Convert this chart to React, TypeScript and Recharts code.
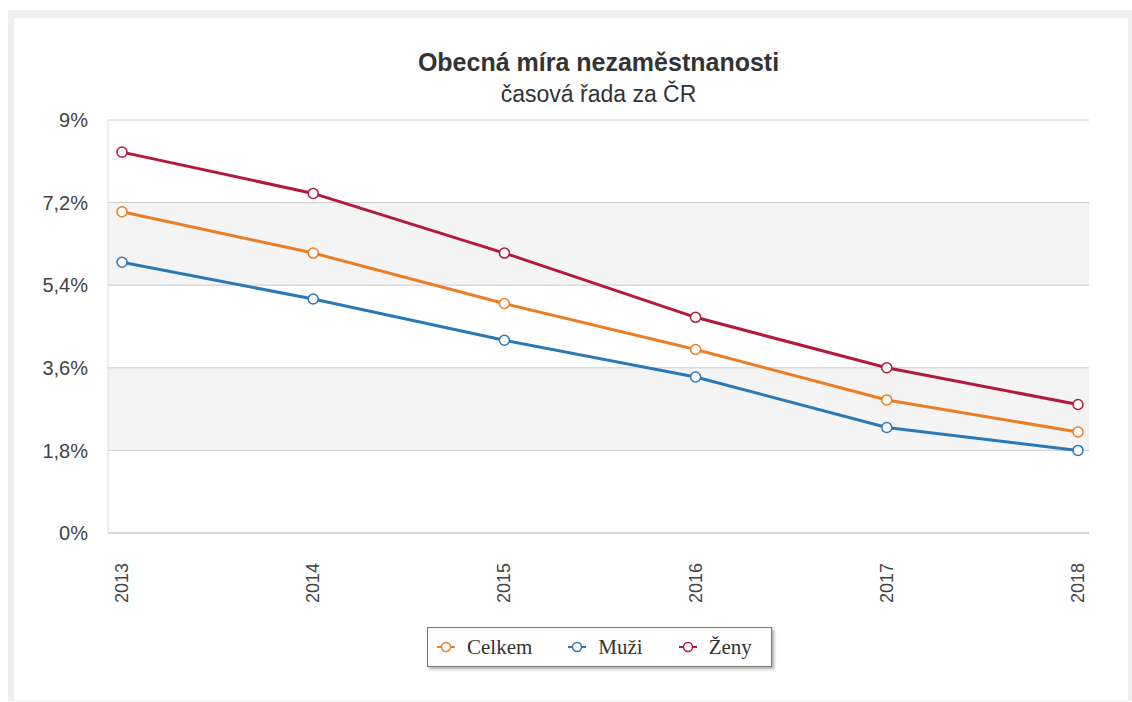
import React from 'react';
import { LineChart, Line, XAxis, YAxis, CartesianGrid, Legend } from 'recharts';

const years = ['2013', '2014', '2015', '2016', '2017', '2018'];
const celkem = [7.0, 6.1, 5.0, 4.0, 2.9, 2.2];
const muzi = [5.9, 5.1, 4.2, 3.4, 2.3, 1.8];
const zeny = [8.3, 7.4, 6.1, 4.7, 3.6, 2.8];
const yTicks = [0, 1.8, 3.6, 5.4, 7.2, 9];
const seriesKeys = ['celkem', 'muzi', 'zeny'];
const seriesNames = ['Celkem', 'Muži', 'Ženy'];
const seriesColors = ['#eb7d23', '#2a78b6', '#b3193c'];
const title = 'Obecná míra nezaměstnanosti';
const subtitle = 'časová řada za ČR';

const data = years.map((y, i) => ({ year: y, celkem: celkem[i], muzi: muzi[i], zeny: zeny[i] }));

const sans = '"Liberation Sans", Arial, sans-serif';
const serif = '"Liberation Serif", "Times New Roman", serif';

const fmtY = (v: number) => String(v).replace('.', ',') + '%';

const XTick = (props: any) => {
  const { x, y, payload } = props;
  return (
    <g transform={`translate(${x},${y + 30}) rotate(-90)`}>
      <text x={0} y={0} dy={6} textAnchor="end" fill="#444" fontSize={18} fontFamily={sans}>
        {payload.value}
      </text>
    </g>
  );
};

const LegendContent = () => (
  <div
    style={{
      display: 'flex',
      alignItems: 'center',
      height: 40,
      width: 345,
      boxSizing: 'border-box',
      border: '1px solid #777',
      boxShadow: '2px 2px 3px #aaa',
      background: '#fff',
      fontFamily: serif,
      fontSize: 21,
      color: '#333',
      paddingLeft: 9,
    }}
  >
    {seriesNames.map((n, i) => (
      <div key={n} style={{ display: 'flex', alignItems: 'center', marginRight: i < 2 ? 36 : 0 }}>
        <svg width={18} height={12} style={{ display: 'block' }}>
          <line x1={0} y1={6} x2={18} y2={6} stroke={seriesColors[i]} strokeWidth={2} />
          <circle cx={9} cy={6} r={4.5} fill="#fff" stroke={seriesColors[i]} strokeWidth={1.5} />
        </svg>
        <span style={{ marginLeft: 12 }}>{n}</span>
      </div>
    ))}
  </div>
);

export default function App() {
  return (
    <div style={{ position: 'absolute', left: 0, top: 0, width: 1132, height: 702, background: '#fff' }}>
      <div style={{ position: 'absolute', left: 8, top: 10, width: 1124, height: 691, background: '#efefef' }} />
      <div style={{ position: 'absolute', left: 14, top: 18, width: 1114, height: 682, background: '#fff' }} />
      <div
        style={{
          position: 'absolute',
          left: 108,
          width: 981,
          top: 47,
          textAlign: 'center',
          fontFamily: sans,
          fontWeight: 'bold',
          fontSize: 25,
          color: '#333',
          lineHeight: '30px',
        }}
      >
        {title}
      </div>
      <div
        style={{
          position: 'absolute',
          left: 108,
          width: 981,
          top: 81,
          textAlign: 'center',
          fontFamily: sans,
          fontSize: 23,
          color: '#333',
          lineHeight: '26px',
        }}
      >
        {subtitle}
      </div>
      <div style={{ position: 'absolute', left: 0, top: 0 }}>
        <LineChart width={1132} height={702} data={data} margin={{ top: 120, right: 43, bottom: 0, left: 0 }}>
          <CartesianGrid vertical={false} stroke="#cccccc" horizontalFill={['#ffffff', '#f4f4f4']} fillOpacity={1} />
          <XAxis
            dataKey="year"
            height={169}
            padding={{ left: 14, right: 11 }}
            axisLine={{ stroke: '#cccccc' }}
            tickLine={false}
            tickSize={0}
            tickMargin={0}
            tick={<XTick />}
            interval={0}
          />
          <YAxis
            width={108}
            domain={[0, 9]}
            ticks={yTicks}
            tickFormatter={fmtY}
            axisLine={{ stroke: '#dddddd' }}
            tickLine={false}
            tickSize={0}
            tickMargin={20}
            tick={{ fill: '#444', fontSize: 20, fontFamily: sans }}
            interval={0}
          />
          <YAxis
            yAxisId="r"
            orientation="right"
            width={0}
            domain={[0, 9]}
            tick={false}
            tickLine={false}
            axisLine={{ stroke: '#dddddd' }}
          />
          <Legend
            verticalAlign="middle"
            align="center"
            layout="horizontal"
            wrapperStyle={{ left: 427, top: 627, width: 345, height: 40 }}
            content={<LegendContent />}
          />
          {seriesKeys.map((k, i) => (
            <Line
              key={k}
              dataKey={k}
              name={seriesNames[i]}
              stroke={seriesColors[i]}
              strokeWidth={3}
              dot={{ r: 5, fill: '#fff', stroke: seriesColors[i], strokeWidth: 1.5 }}
              activeDot={false}
              isAnimationActive={false}
            />
          ))}
        </LineChart>
      </div>
    </div>
  );
}
